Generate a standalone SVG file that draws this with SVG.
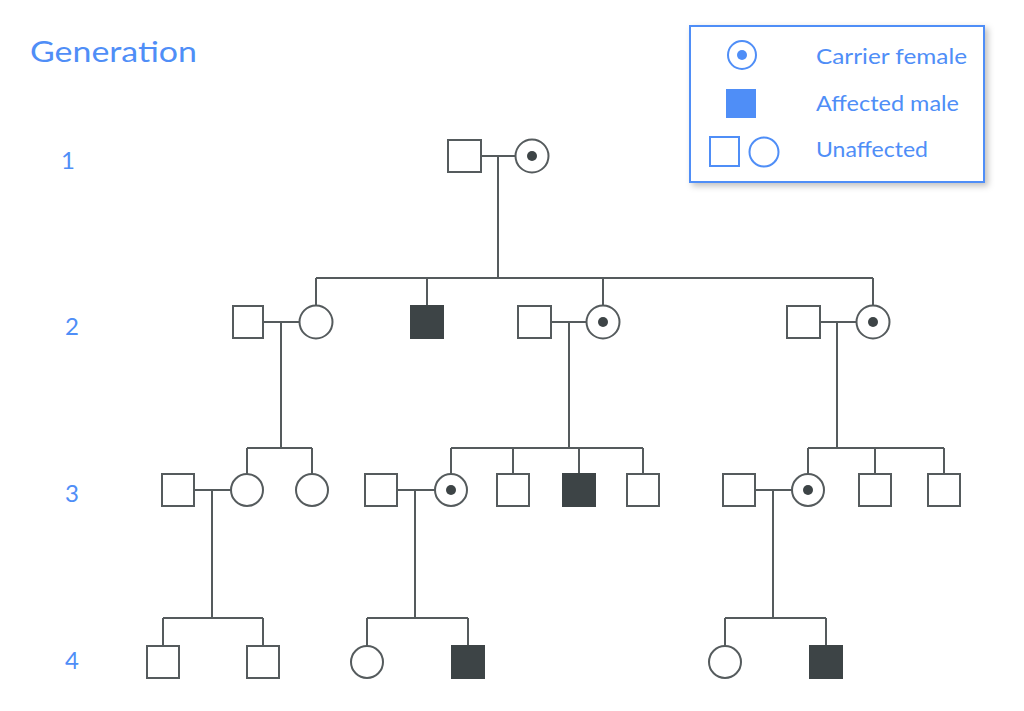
<svg xmlns="http://www.w3.org/2000/svg" width="1024" height="711" viewBox="0 0 1024 711">
<defs>
<style>
.ln{stroke:#555b5d;stroke-width:2;fill:none}
.m{fill:#fff;stroke:#555b5d;stroke-width:2}
.a{fill:#3d4446;stroke:#3d4446;stroke-width:2}
.dot{fill:#3d4446}
.t{font-family:Lato,"Liberation Sans",sans-serif;fill:#4f8ef7}
.lg{fill:#fff;stroke:#4f8ef7;stroke-width:2}
</style>
<filter id="sh" x="-10%" y="-10%" width="130%" height="130%">
<feDropShadow dx="3" dy="3" stdDeviation="3" flood-color="#000" flood-opacity="0.25"/>
</filter>
</defs>
<rect width="1024" height="711" fill="#fff"/>
<g id="labels">
<text class="t" x="30" y="62" font-size="29" textLength="167" lengthAdjust="spacingAndGlyphs">Generation</text>
<text class="t" x="68" y="169" font-size="24" text-anchor="middle">1</text>
<text class="t" x="72" y="335" font-size="24" text-anchor="middle">2</text>
<text class="t" x="72" y="502" font-size="24" text-anchor="middle">3</text>
<text class="t" x="72" y="669" font-size="24" text-anchor="middle">4</text>
</g>
<g id="legend">
<rect x="690" y="26" width="294" height="156" fill="#fff" stroke="#4f8ef7" stroke-width="2" filter="url(#sh)"/>
<circle class="lg" cx="742" cy="55" r="14"/>
<circle cx="742" cy="55" r="5" fill="#4f8ef7"/>
<rect x="726" y="89" width="30" height="29" fill="#4f8ef7"/>
<rect class="lg" x="710" y="137" width="29" height="29"/>
<circle class="lg" cx="764" cy="152" r="14.5"/>
<text class="t" x="816" y="64" font-size="21" textLength="151" lengthAdjust="spacingAndGlyphs">Carrier female</text>
<text class="t" x="816" y="111" font-size="21" textLength="143" lengthAdjust="spacingAndGlyphs">Affected male</text>
<text class="t" x="816" y="157" font-size="21" textLength="112" lengthAdjust="spacingAndGlyphs">Unaffected</text>
</g>
<g id="connectors">
<path class="ln" d="M481 156H516M498 156V278M316 278H873M316 278V306M427 278V305M603 278V306M873 278V306"/>
<path class="ln" d="M263 322H300M281 322V448M247 448H312M247 448V474M312 448V474"/>
<path class="ln" d="M551 322H587M569 322V448M451 448H643M451 448V474M513 448V474M579 448V474M643 448V474"/>
<path class="ln" d="M820 322H857M837 322V448M808 448H944M808 448V474M875 448V474M944 448V474"/>
<path class="ln" d="M194 490H231M212 490V618M163 618H263M163 618V646M263 618V646"/>
<path class="ln" d="M397 490H435M415 490V618M367 618H468M367 618V646M468 618V646"/>
<path class="ln" d="M755 490H792M773 490V618M725 618H826M725 618V646M826 618V646"/>
</g>
<g id="g1-m"><rect class="m" x="448" y="140" width="33" height="32"/></g>
<g id="g1-f"><circle class="m" cx="532" cy="156" r="16.5"/><circle class="dot" cx="532" cy="156" r="5"/></g>
<g id="g2-m1"><rect class="m" x="233" y="306" width="30" height="32"/></g>
<g id="g2-f1"><circle class="m" cx="316" cy="322" r="16.5"/></g>
<g id="g2-m2"><rect class="a" x="411" y="306" width="32" height="32"/></g>
<g id="g2-m3"><rect class="m" x="518" y="306" width="33" height="32"/></g>
<g id="g2-f3"><circle class="m" cx="603" cy="322" r="16.5"/><circle class="dot" cx="603" cy="322" r="5"/></g>
<g id="g2-m4"><rect class="m" x="787" y="306" width="33" height="32"/></g>
<g id="g2-f4"><circle class="m" cx="873" cy="322" r="16.5"/><circle class="dot" cx="873" cy="322" r="5"/></g>
<g id="g3-m1"><rect class="m" x="162" y="474" width="32" height="32"/></g>
<g id="g3-f1"><circle class="m" cx="247" cy="490" r="16"/></g>
<g id="g3-f2"><circle class="m" cx="312" cy="490" r="16"/></g>
<g id="g3-m2"><rect class="m" x="365" y="474" width="32" height="32"/></g>
<g id="g3-f3"><circle class="m" cx="451" cy="490" r="16"/><circle class="dot" cx="451" cy="490" r="5"/></g>
<g id="g3-m3"><rect class="m" x="497" y="474" width="32" height="32"/></g>
<g id="g3-m4"><rect class="a" x="563" y="474" width="32" height="32"/></g>
<g id="g3-m5"><rect class="m" x="627" y="474" width="32" height="32"/></g>
<g id="g3-m6"><rect class="m" x="723" y="474" width="32" height="32"/></g>
<g id="g3-f6"><circle class="m" cx="808" cy="490" r="16"/><circle class="dot" cx="808" cy="490" r="5"/></g>
<g id="g3-m7"><rect class="m" x="859" y="474" width="32" height="32"/></g>
<g id="g3-m8"><rect class="m" x="928" y="474" width="32" height="32"/></g>
<g id="g4-m1"><rect class="m" x="147" y="646" width="32" height="32"/></g>
<g id="g4-m2"><rect class="m" x="247" y="646" width="32" height="32"/></g>
<g id="g4-f3"><circle class="m" cx="367" cy="662" r="16"/></g>
<g id="g4-m4"><rect class="a" x="452" y="646" width="32" height="32"/></g>
<g id="g4-f5"><circle class="m" cx="725" cy="662" r="16"/></g>
<g id="g4-m6"><rect class="a" x="810" y="646" width="32" height="32"/></g>
</svg>
